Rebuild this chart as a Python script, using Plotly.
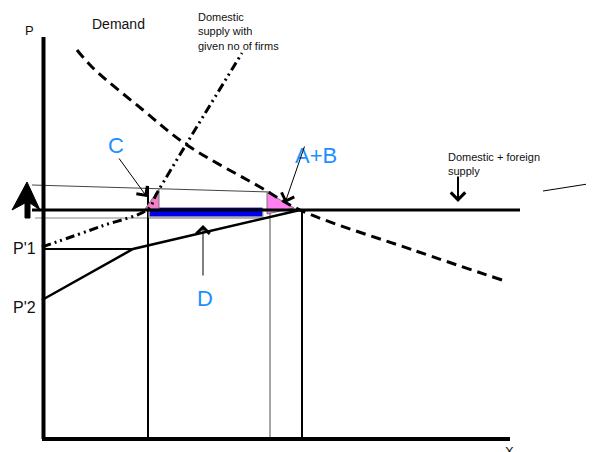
import plotly.graph_objects as go

# diagram units: quantity to the right of the P axis, price above the X axis
demand_q = [35, 51, 101, 145, 218, 258, 371, 460]
demand_p = [388, 370, 328, 293, 251, 228, 188, 158]

dom_supply_q = [0, 60, 106, 115, 145, 200]
dom_supply_p = [191, 212, 229, 245, 295, 385]

world_q = [-10, 478]
world_p = [228, 228]

low_supply_q = [0, 91, 258]
low_supply_p = [138, 189, 228]

p1_q = [0, 91]
p1_p = [189, 189]

top_q = [-10, 228]
top_p = [253, 246]
bottom_q = [-7, 228]
bottom_p = [220, 220]

stray_q = [501, 552]
stray_p = [247, 255]

# vertical drop lines (quantity, top price)
drops_black = [(106, 252), (260, 228)]
drop_grey = (228, 247)

tri_c_q = [103, 117, 117, 103]
tri_c_p = [229, 249, 229, 229]
tri_ab_q = [225, 225, 252, 225]
tri_ab_p = [246, 224, 230, 246]

bar_q = [108, 220]
bar_p = [222, 230]

big_arrow_q = [-15, -2, -12, -12, -17, -17, -30, -15]
big_arrow_p = [256, 228, 235, 220, 220, 235, 228, 256]

FONT = "Arial, Liberation Sans, sans-serif"
BLUE = "#1E8FFF"

fig = go.Figure()

def line(q, p, color="black", width=2, dash="solid", shape="linear"):
    fig.add_trace(go.Scatter(x=q, y=p, mode="lines",
                             line=dict(color=color, width=width, dash=dash, shape=shape),
                             hoverinfo="skip"))

def poly(q, p, fill, edge="#777", width=1):
    fig.add_trace(go.Scatter(x=q, y=p, mode="lines", fill="toself", fillcolor=fill,
                             line=dict(color=edge, width=width), hoverinfo="skip"))

# thin reference lines
line(top_q, top_p, color="#444", width=1)
line(bottom_q, bottom_p, color="#888", width=1.2)
line(stray_q, stray_p, color="black", width=1)

# drop lines
for q, p in drops_black:
    line([q, q], [0, p], color="black", width=2)
line([drop_grey[0]] * 2, [0, drop_grey[1]], color="#888", width=1.5)

# bar D with a grey edge
poly([bar_q[0] - 1, bar_q[1] + 1, bar_q[1] + 1, bar_q[0] - 1, bar_q[0] - 1],
     [bar_p[0] - 2, bar_p[0] - 2, bar_p[1], bar_p[1], bar_p[0] - 2], "#aaa", edge="#aaa")
poly([bar_q[0], bar_q[1], bar_q[1], bar_q[0], bar_q[0]],
     [bar_p[0], bar_p[0], bar_p[1], bar_p[1], bar_p[0]], "#0000EE", edge="#0000DD", width=0.5)

# welfare triangles
poly(tri_c_q, tri_c_p, "#F47EC8")
poly(tri_ab_q, tri_ab_p, "#FF80F0")

# curves
line(world_q, world_p, color="black", width=3)
line(low_supply_q, low_supply_p, color="black", width=2.5)
line(p1_q, p1_p, color="black", width=2)
line(demand_q, demand_p, color="black", width=3, dash="10px,6px", shape="spline")
line(dom_supply_q, dom_supply_p, color="black", width=3,
     dash="9px,4px,2px,4px,2px,4px", shape="spline")

# axes
line([1.5, 1.5], [-1, 401], color="black", width=4)
line([0, 468], [-1, -1], color="black", width=4)

# big up arrow beside the P axis
poly(big_arrow_q, big_arrow_p, "black", edge="black")

texts = [
    dict(x=-13, y=408, text="P", size=13),
    dict(x=76, y=414, text="Demand", size=14),
    dict(x=-18, y=190, text="P'1", size=16),
    dict(x=-18, y=131, text="P'2", size=16),
    dict(x=467, y=-13, text="X", size=13),
    dict(x=74, y=293, text="C", size=22, color=BLUE),
    dict(x=274, y=283, text="A+B", size=22, color=BLUE),
    dict(x=163, y=140, text="D", size=22, color=BLUE),
]
for t in texts:
    fig.add_annotation(x=t["x"], y=t["y"], text=t["text"], showarrow=False,
                       font=dict(family=FONT, size=t["size"], color=t.get("color", "#111")))

fig.add_annotation(x=154, y=429, xanchor="left", yanchor="top", align="left",
                   text="Domestic<br>supply with<br>given no of firms", showarrow=False,
                   font=dict(family=FONT, size=11, color="#111"))
fig.add_annotation(x=404, y=289, xanchor="left", yanchor="top", align="left",
                   text="Domestic + foreign<br>supply", showarrow=False,
                   font=dict(family=FONT, size=11, color="#111"))

# pointer arrows (tail -> head)
arrows = [
    ((76, 281), (105, 241), 1, 2.6),
    ((263, 293), (243, 235), 1, 2.6),
    ((161, 161), (161, 213), 1, 2.6),
    ((416, 263), (416, 236), 2, 1.4),
]
for (tq, tp), (hq, hp), w, s in arrows:
    fig.add_annotation(x=hq, y=hp, ax=tq, ay=tp, xref="x", yref="y", axref="x", ayref="y",
                       text="", showarrow=True, arrowhead=4, arrowsize=s,
                       arrowwidth=w, arrowcolor="black")

# the page body adds an 8px margin, so the figure is 8px smaller and the ranges shifted
fig.update_layout(
    width=586, height=444,
    margin=dict(l=0, r=0, t=0, b=0),
    paper_bgcolor="white", plot_bgcolor="white",
    showlegend=False,
    xaxis=dict(range=[-34, 552], visible=False, fixedrange=True),
    yaxis=dict(range=[-14, 430], visible=False, fixedrange=True),
)

fig.write_html("out.html")
